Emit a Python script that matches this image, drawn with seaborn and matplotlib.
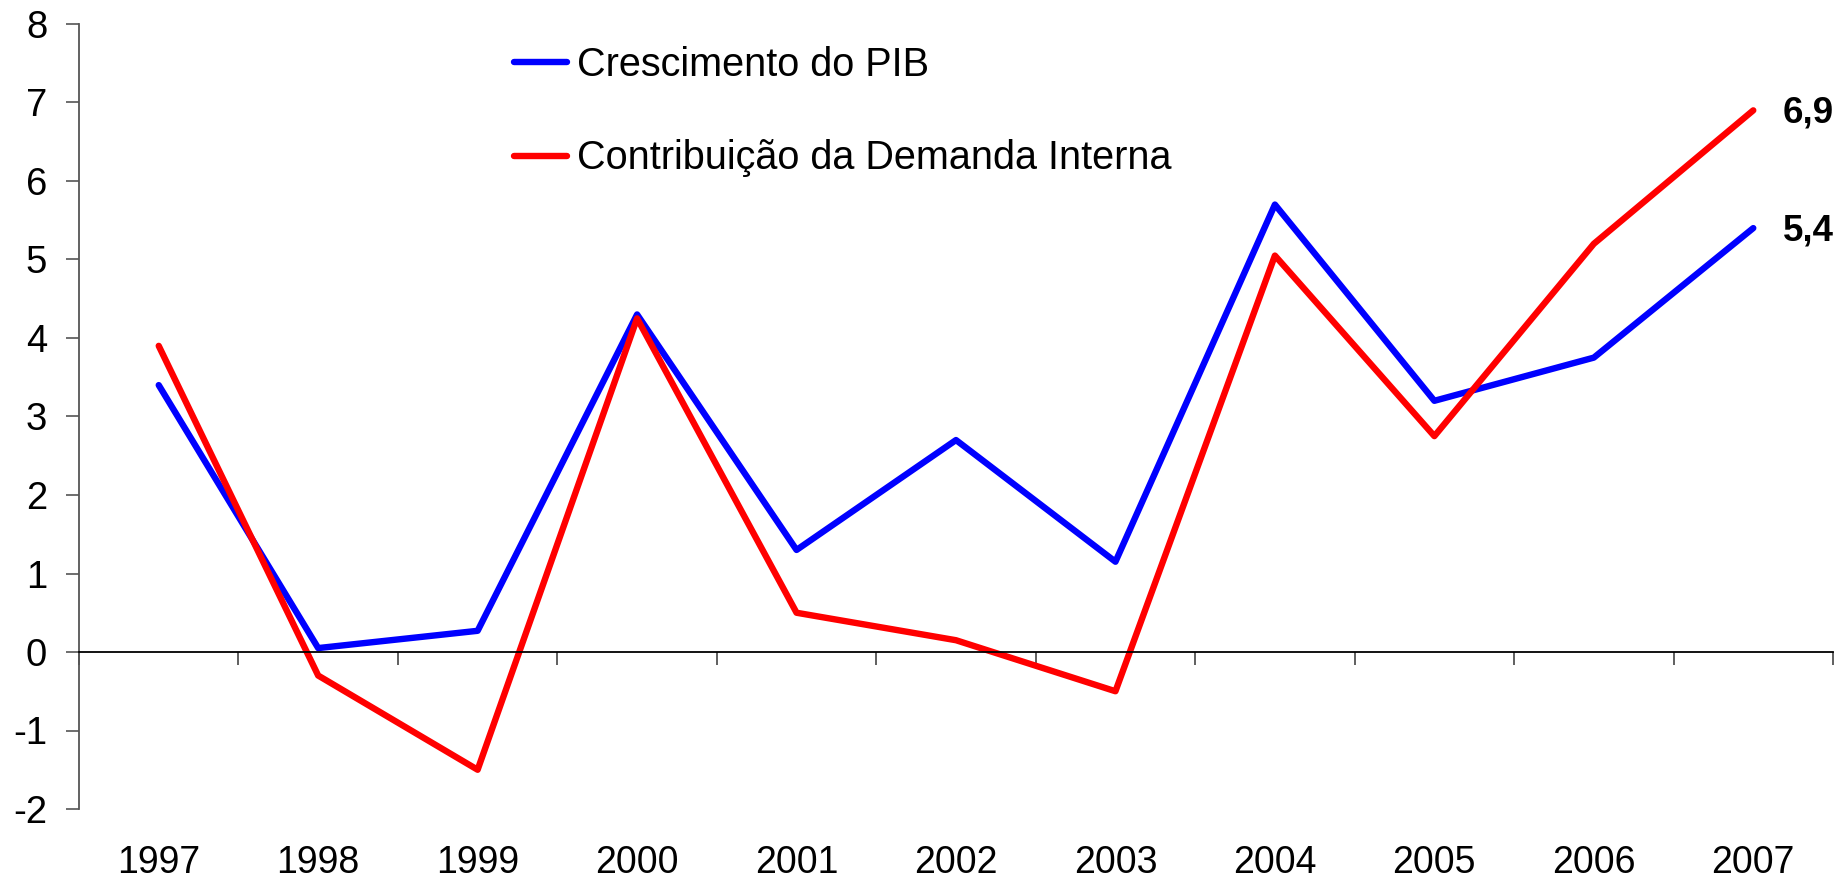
import numpy as np
import pandas as pd
import seaborn as sns
import matplotlib.pyplot as plt

years = ['1997', '1998', '1999', '2000', '2001', '2002', '2003', '2004', '2005', '2006', '2007']
pib = [3.4, 0.05, 0.27, 4.3, 1.3, 2.7, 1.15, 5.7, 3.2, 3.75, 5.4]
demanda = [3.9, -0.3, -1.5, 4.25, 0.5, 0.15, -0.5, 5.05, 2.75, 5.2, 6.9]
series = ['Crescimento do PIB', 'Contribuição da Demanda Interna']
colors = ['#0000ff', '#ff0000']

sns.set_style('white')
plt.rcParams['font.family'] = ['Liberation Sans', 'DejaVu Sans']
plt.rcParams['text.color'] = 'black'
plt.rcParams['xtick.color'] = 'black'
plt.rcParams['ytick.color'] = 'black'
plt.rcParams['lines.solid_capstyle'] = 'round'
plt.rcParams['lines.solid_joinstyle'] = 'round'

df = pd.DataFrame({
    'pos': list(range(len(years))) * 2,
    'valor': pib + demanda,
    'serie': [series[0]] * len(years) + [series[1]] * len(years),
})

fig = plt.figure(figsize=(18.39, 8.85), dpi=100)
ax = fig.add_axes([79 / 1839, 1 - 809 / 885, (1833 - 79) / 1839, (809 - 24) / 885])

sns.lineplot(data=df, x='pos', y='valor', hue='serie', hue_order=series,
             palette=colors, linewidth=4.6, ax=ax, legend=True)

ax.set_xlim(-0.5, len(years) - 0.5)
ax.set_ylim(-2, 8)
ax.set_yticks(range(-2, 9))
ax.set_yticklabels([str(v) for v in range(-2, 9)], fontsize=27.5)
ax.set_xlabel('')
ax.set_ylabel('')

# eixo x na linha do zero
ax.spines['bottom'].set_position(('data', 0))
ax.spines['top'].set_visible(False)
ax.spines['right'].set_visible(False)
ax.spines['left'].set_color('#555555')
ax.spines['bottom'].set_color('black')
ax.spines['left'].set_linewidth(1.3)
ax.spines['bottom'].set_linewidth(1.3)

ax.set_xticks(np.arange(-0.5, len(years) + 0.5, 1.0))
ax.set_xticklabels([])
ax.set_xticks(range(len(years)), minor=True)
ax.set_xticklabels(years, minor=True, fontsize=27)
ax.tick_params(axis='x', which='major', bottom=True, direction='out', length=9.5,
               width=1.2, color='#444444')
ax.tick_params(axis='x', which='minor', bottom=True, length=0, pad=139)
ax.tick_params(axis='y', left=True, direction='out', length=9.4, width=1.2,
               color='#555555', pad=13.5)

# rotulos finais
ax.annotate('6,9', (len(years) - 1, demanda[-1]), xytext=(21, -2), textcoords='offset points',
            ha='left', va='center', fontsize=26.5, fontweight='bold')
ax.annotate('5,4', (len(years) - 1, pib[-1]), xytext=(21, -2), textcoords='offset points',
            ha='left', va='center', fontsize=26.5, fontweight='bold')

handles, labels = ax.get_legend_handles_labels()
ax.legend(handles, labels, loc='upper left', bbox_to_anchor=(514 / 1839, 1 - 46 / 885),
          bbox_transform=fig.transFigure, frameon=False, fontsize=28.5,
          handlelength=1.33, handletextpad=0.27, labelspacing=1.4,
          borderpad=0, borderaxespad=0)

fig.savefig('out.png', dpi=100)
